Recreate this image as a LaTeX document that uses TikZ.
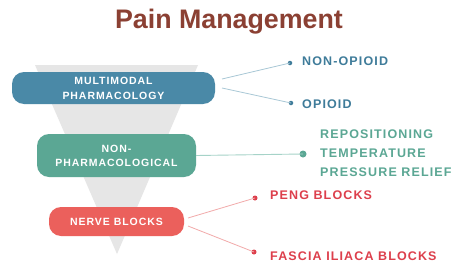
\documentclass[tikz,border=0pt]{standalone}
\usepackage{fontspec}
\setmainfont{Liberation Sans}
\newfontfamily\trk[LetterSpace=9]{Liberation Sans}
\definecolor{cBlue}{HTML}{4A89A7}
\definecolor{cGreen}{HTML}{5BA794}
\definecolor{cRed}{HTML}{EB605C}
\definecolor{tBlue}{HTML}{3F7C9A}
\definecolor{tGreen}{HTML}{5BA794}
\definecolor{tRed}{HTML}{DD3F4C}
\definecolor{lBlue}{HTML}{A9C8D6}
\definecolor{lGreen}{HTML}{A6D3C8}
\definecolor{lRed}{HTML}{F2AAAA}
\definecolor{cTitle}{HTML}{8B4033}
\definecolor{cFunnel}{HTML}{E6E6E6}
\begin{document}
\begin{tikzpicture}[x=1pt,y=-1pt,
  pill/.style={rounded corners=12pt, inner sep=0pt, align=center, text=white,
    font=\trk\bfseries\fontsize{10.5}{15}\selectfont},
  lab/.style={anchor=west, inner sep=0pt, font=\trk\bfseries\fontsize{12.5}{19}\selectfont},
  dot/.style={circle, inner sep=0pt, minimum size=#1}]
\useasboundingbox (0,0) rectangle (469,276);
\fill[white] (0,0) rectangle (469,276);
\node[font=\bfseries\fontsize{26.8}{28}\selectfont, text=cTitle] (title) at (229,22) {Pain Management};
\fill[cFunnel] (35,65) -- (198,65) -- (117,254) -- cycle;
% boxes
\node[pill, fill=cBlue, minimum width=203pt, minimum height=32pt] (b1) at (113.5,88) {MULTIMODAL\\PHARMACOLOGY};
\node[pill, fill=cGreen, minimum width=159pt, minimum height=43pt, font=\trk\bfseries\fontsize{10.5}{14}\selectfont] (b2) at (116.5,155.5) {NON-\\PHARMACOLOGICAL};
\node[pill, fill=cRed, minimum width=135pt, minimum height=29pt] (b3) at (116.5,221.5) {NERVE BLOCKS};
% connectors
\coordinate (s1a) at (222,79);
\coordinate (s1b) at (222,88);
\node[dot=4.5pt, fill=tBlue] (d1a) at (290,63) {};
\node[dot=4.5pt, fill=tBlue] (d1b) at (291,103) {};
\draw[lBlue, line width=0.8pt] (s1a) -- (d1a.center);
\draw[lBlue, line width=0.8pt] (s1b) -- (d1b.center);
\node[lab, text=tBlue] (t1a) at (302,61) {NON-OPIOID};
\node[lab, text=tBlue] (t1b) at (302,104) {OPIOID};
\node[dot=7pt, fill=cGreen] (d2) at (303,154) {};
\draw[lGreen, line width=0.9pt] (b2.east) -- (d2.center);
\node[lab, text=tGreen] (t2a) at (320,134) {REPOSITIONING};
\node[lab, text=tGreen] (t2b) at (320,153) {TEMPERATURE};
\node[lab, text=tGreen] (t2c) at (320,172) {PRESSURE RELIEF};
\coordinate (s3a) at (188,218);
\coordinate (s3b) at (188,226);
\node[dot=5pt, fill=tRed] (d3a) at (255,198) {};
\node[dot=5pt, fill=tRed] (d3b) at (254,252) {};
\draw[lRed, line width=0.8pt] (s3a) -- (d3a.center);
\draw[lRed, line width=0.8pt] (s3b) -- (d3b.center);
\node[lab, text=tRed] (t3a) at (270,195) {PENG BLOCKS};
\node[lab, text=tRed] (t3b) at (270,256) {FASCIA ILIACA BLOCKS};
\end{tikzpicture}
\end{document}
